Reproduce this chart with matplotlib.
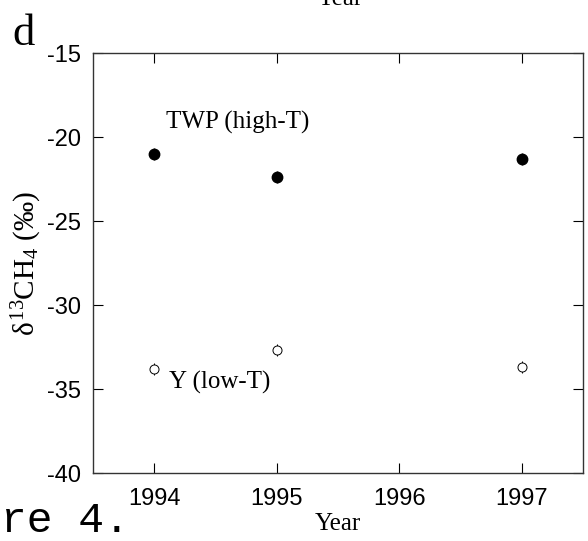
import matplotlib
matplotlib.use("Agg")
import matplotlib.pyplot as plt

years = [1994, 1995, 1997]
twp_high = [-21.0, -22.4, -21.3]   # TWP (high-T), filled
twp_err = [0.35, 0.35, 0.35]
y_low = [-33.8, -32.7, -33.7]      # Y (low-T), open
y_err = [0.35, 0.35, 0.35]

xticks = [1994, 1995, 1996, 1997]
yticks = [-40, -35, -30, -25, -20, -15]

plt.rcParams['axes.unicode_minus'] = False
plt.rcParams['mathtext.fontset'] = 'custom'
plt.rcParams['mathtext.rm'] = 'Liberation Serif'
plt.rcParams['mathtext.it'] = 'Liberation Serif'

fig = plt.figure(figsize=(5.88, 5.41), dpi=100)
ax = fig.add_axes([93/588, 68/541, 490/588, 420/541])

ax.errorbar(years, twp_high, yerr=twp_err, fmt='o', color='black', ms=7.5,
            elinewidth=1.0, capsize=0, zorder=3)
ax.errorbar(years, y_low, yerr=y_err, fmt='o', mfc='white', mec='black',
            ms=6.5, mew=0.7, ecolor='black', elinewidth=0.7, capsize=0, zorder=3)

ax.text(1994.1, -19.85, "TWP (high-T)", family='Liberation Serif', fontsize=18,
        va='bottom', ha='left')
ax.text(1994.12, -33.9, "Y (low-T)", family='Liberation Serif', fontsize=18,
        va='top', ha='left')

ax.set_xlim(1993.5, 1997.5)
ax.set_ylim(-40, -15)
ax.set_xticks(xticks)
ax.set_yticks(yticks)
ax.tick_params(direction='in', length=7, width=0.8, top=True, right=True,
               labelsize=17, colors='black')
ax.tick_params(axis='y', pad=9)
ax.tick_params(axis='x', pad=11)
for lab in ax.get_xticklabels() + ax.get_yticklabels():
    lab.set_family('Liberation Sans')
for s in ax.spines.values():
    s.set_linewidth(1.0)
    s.set_color('#333333')

ax.set_xlabel("Year", family='Liberation Serif', fontsize=18, labelpad=2)
ax.set_ylabel(r"$\delta^{13}$CH$_4$ (‰)", family='Liberation Serif', fontsize=21,
              labelpad=2)

# panel letter, cut-off caption and the clipped title above
fig.text(12/588, 1 - 45/541, "d", family='Liberation Serif', fontsize=32,
         va='baseline', ha='left')
fig.text(130/588, 1 - 532/541, "Figure 4.", family='Liberation Mono', fontsize=31,
         va='baseline', ha='right')
fig.text(340/588, 1 - 5/541, "Year", family='Liberation Serif', fontsize=18,
         va='baseline', ha='center')

fig.savefig("out.png", dpi=100)
